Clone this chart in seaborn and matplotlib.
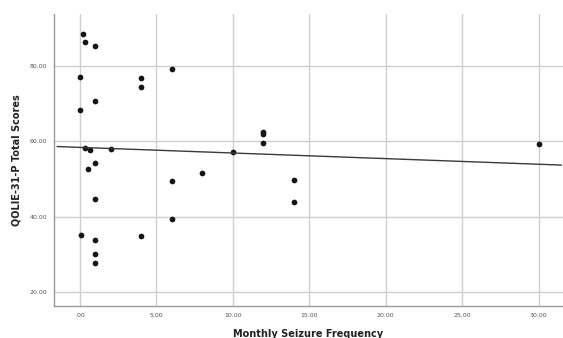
import numpy as np
import pandas as pd
import matplotlib
matplotlib.use("Agg")
import matplotlib.pyplot as plt
import seaborn as sns
from matplotlib.ticker import FuncFormatter

# monthly seizure frequency and QOLIE-31-P total scores
seizure_freq = [0.2, 0.3, 1.0, 0.0, 4.0, 4.0, 6.0, 1.0, 0.0, 0.33, 0.65, 2.0,
                1.0, 0.5, 6.0, 1.0, 6.0, 0.07, 1.0, 4.0, 1.0, 1.0,
                8.0, 10.0, 12.0, 12.0, 12.0, 14.0, 14.0, 30.0]
qolie_scores = [88.7, 86.4, 85.5, 77.1, 76.8, 74.6, 79.3, 70.9, 68.4, 58.3, 57.8, 58.0,
                54.4, 52.6, 49.4, 44.8, 39.4, 35.1, 33.8, 34.7, 30.0, 27.7,
                51.7, 57.3, 62.6, 62.1, 59.6, 49.7, 43.8, 59.4]

x_ticks = [0, 5, 10, 15, 20, 25, 30]
y_ticks = [20, 40, 60, 80]

df = pd.DataFrame({'freq': seizure_freq, 'score': qolie_scores})

sns.set_style("white")
fig = plt.figure(figsize=(5.63, 3.38), dpi=100)
ax = fig.add_axes([0.096, 0.095, 0.904, 0.864])

sns.regplot(data=df, x='freq', y='score', ci=None, truncate=False, ax=ax,
            scatter_kws={'s': 17, 'color': '#151515', 'linewidths': 0, 'alpha': 1},
            line_kws={'color': '#3a3a3a', 'linewidth': 1.0})

ax.set_xlim(-1.7, 31.6)
ax.set_ylim(16.2, 94)
ax.set_xticks(x_ticks)
ax.set_yticks(y_ticks)

fmt = FuncFormatter(lambda v, p: ('%.2f' % v).lstrip('0') if v == 0 else '%.2f' % v)
ax.xaxis.set_major_formatter(fmt)
ax.yaxis.set_major_formatter(fmt)
ax.tick_params(labelsize=4.5, colors='#555555', length=0, pad=5)

ax.grid(True, color='#cfcfcf', linewidth=1.0)
ax.set_axisbelow(True)
for side in ['top', 'right']:
    ax.spines[side].set_visible(False)
for side in ['left', 'bottom']:
    ax.spines[side].set_color('#9a9a9a')
    ax.spines[side].set_linewidth(1.0)

ax.set_xlabel('Monthly Seizure Frequency', fontsize=7, fontweight='bold', color='#222222', labelpad=8)
ax.set_ylabel('QOLIE-31-P Total Scores', fontsize=7, fontweight='bold', color='#222222', labelpad=6)

fig.savefig('out.png', dpi=100)
